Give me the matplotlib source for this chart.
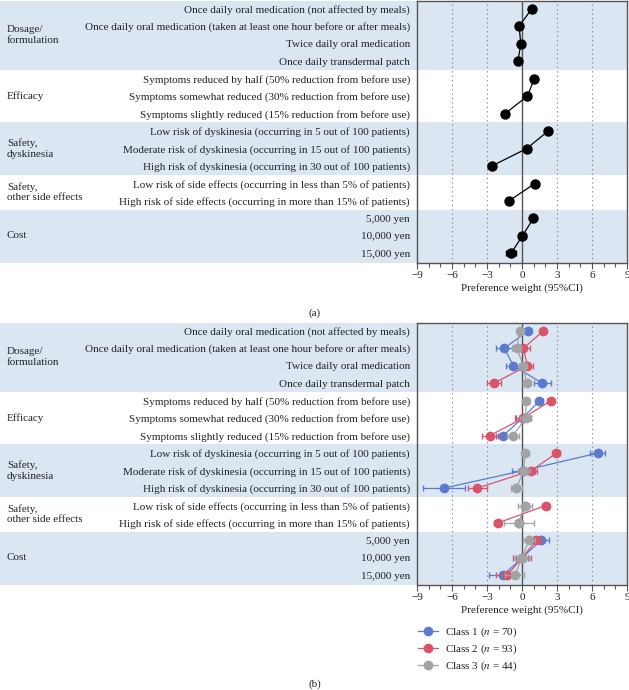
import matplotlib
matplotlib.use("Agg")
import matplotlib.pyplot as plt
import matplotlib.transforms as mtransforms
from matplotlib.patches import Rectangle
from matplotlib.lines import Line2D
from matplotlib.ticker import MultipleLocator

plt.rcParams['font.family'] = 'Liberation Serif'
plt.rcParams['mathtext.fontset'] = 'stix'

# attribute levels (rows) and their groups
levels = [
    "Once daily oral medication (not affected by meals)",
    "Once daily oral medication (taken at least one hour before or after meals)",
    "Twice daily oral medication",
    "Once daily transdermal patch",
    "Symptoms reduced by half (50% reduction from before use)",
    "Symptoms somewhat reduced (30% reduction from before use)",
    "Symptoms slightly reduced (15% reduction from before use)",
    "Low risk of dyskinesia (occurring in 5 out of 100 patients)",
    "Moderate risk of dyskinesia (occurring in 15 out of 100 patients)",
    "High risk of dyskinesia (occurring in 30 out of 100 patients)",
    "Low risk of side effects (occurring in less than 5% of patients)",
    "High risk of side effects (occurring in more than 15% of patients)",
    "5,000 yen",
    "10,000 yen",
    "15,000 yen",
]
group_names = ["Dosage/\nformulation", "Efficacy", "Safety,\ndyskinesia",
               "Safety,\nother side effects", "Cost"]
group_sizes = [4, 3, 3, 2, 3]

# panel (a): whole sample
all_mean = [0.83, -0.25, -0.10, -0.35, 1.06, 0.46, -1.46, 2.23, 0.40, -2.60,
            1.11, -1.14, 0.97, 0.03, -0.94]
all_err = [0.2, 0.25, 0.2, 0.2, 0.2, 0.25, 0.25, 0.2, 0.25, 0.3,
           0.2, 0.2, 0.25, 0.3, 0.45]

# panel (b): latent classes
class_labels = ["Class 1 ($n$ = 70)", "Class 2 ($n$ = 93)", "Class 3 ($n$ = 44)"]
class_colors = ["#5a7bd0", "#d95468", "#a3a3a3"]
class1_mean = [0.49, -1.51, -0.74, 1.75, 1.49, 0.05, -1.63, 6.49, 0.10, -6.68,
               0.26, -0.26, 1.60, 0.0, -1.63]
class1_err = [0.3, 0.75, 0.65, 0.75, 0.3, 0.6, 0.6, 0.65, 1.0, 1.8,
              0.3, 0.3, 0.7, 0.5, 1.2]
class2_mean = [1.83, 0.12, 0.46, -2.43, 2.46, 0.10, -2.77, 2.95, 0.80, -3.82,
               2.03, -2.08, 1.23, 0.0, -1.29]
class2_err = [0.25, 0.55, 0.5, 0.6, 0.3, 0.7, 0.7, 0.3, 0.5, 0.8,
              0.3, 0.3, 0.4, 0.8, 0.9]
class3_mean = [-0.20, -0.45, 0.12, 0.40, 0.37, 0.30, -0.77, 0.26, 0.15, -0.48,
               0.26, -0.26, 0.60, 0.0, -0.63]
class3_err = [0.25, 0.4, 0.35, 0.3, 0.25, 0.5, 0.5, 0.3, 0.5, 0.5,
              0.6, 1.3, 0.5, 0.6, 0.8]

band_color = "#dbe6f3"
text_color = "#222222"
spine_color = "#555555"
fs = 8

W, H = 629, 690
fig = plt.figure(figsize=(W / 100, H / 100), dpi=100)
ax_a = fig.add_axes([417 / W, 1 - 263 / H, 210 / W, 262 / H])
ax_b = fig.add_axes([417 / W, 1 - 585 / H, 210 / W, 262 / H])

rows = list(range(len(levels)))


def group_slices():
    start = 0
    for size in group_sizes:
        yield start, start + size
        start += size


def setup(ax):
    ax.set_xlim(-9, 9)
    ax.set_ylim(14.55, -0.45)
    ax.set_facecolor("white")
    trans = mtransforms.blended_transform_factory(fig.transFigure, ax.transData)
    for i, (s, e) in enumerate(group_slices()):
        lo = -0.45 if s == 0 else s - 0.5
        hi = 14.55 if e == len(levels) else e - 0.5
        if i % 2 == 0:
            ax.add_patch(Rectangle((0, lo), 627 / W, hi - lo, transform=trans,
                                   facecolor=band_color, edgecolor="none",
                                   clip_on=False, zorder=0))
        ax.text(7 / W, (s + e - 1) / 2, group_names[i], transform=trans,
                ha="left", va="center", fontsize=fs, color=text_color,
                linespacing=1.2)
    for gx in [-6, -3, 3, 6]:
        ax.axvline(gx, color="#777777", lw=0.8, ls=(0, (1, 3)), zorder=1)
    ax.axvline(0, color=spine_color, lw=1.0, zorder=1)
    ax.set_yticks(rows, levels)
    ax.tick_params(axis="y", length=0, pad=5, labelsize=fs, labelcolor=text_color)
    ax.xaxis.set_major_locator(MultipleLocator(3))
    ax.xaxis.set_minor_locator(MultipleLocator(1))
    ax.set_xticks(range(-9, 10, 3), ["\u22129", "\u22126", "\u22123", "0", "3", "6", "9"])
    ax.tick_params(axis="x", which="major", length=4, width=0.8, color=spine_color,
                   labelsize=fs, labelcolor=text_color, pad=2)
    ax.tick_params(axis="x", which="minor", length=3, width=0.8, color=spine_color)
    for sp in ax.spines.values():
        sp.set_color(spine_color)
        sp.set_linewidth(1.0)
        sp.set_zorder(5)
    ax.set_xlabel("Preference weight (95%CI)", fontsize=fs, color=text_color, labelpad=2)


setup(ax_a)
setup(ax_b)

# panel (a)
for s, e in group_slices():
    ax_a.errorbar(all_mean[s:e], rows[s:e], xerr=all_err[s:e], fmt="-o",
                  color="black", ms=6.5, lw=0.9, elinewidth=0.9, capsize=2.5, zorder=3)

# panel (b)
class_means = [class1_mean, class2_mean, class3_mean]
class_errs = [class1_err, class2_err, class3_err]
for k in range(3):
    for s, e in group_slices():
        ax_b.errorbar(class_means[k][s:e], rows[s:e], xerr=class_errs[k][s:e],
                      fmt="-o", color=class_colors[k], ms=6, lw=0.9,
                      elinewidth=0.9, capsize=2.5, zorder=3 + k)

handles = [Line2D([], [], color=c, marker="o", ms=6, lw=0.9) for c in class_colors]
ax_b.legend(handles, class_labels, loc="upper left", bbox_to_anchor=(0.005, -0.155),
            frameon=False, fontsize=fs, handlelength=1.8, handletextpad=0.6,
            labelspacing=0.3, borderpad=0, borderaxespad=0, labelcolor=text_color)

fig.text(315 / W, 1 - 313 / H, "(a)", ha="center", va="center", fontsize=fs,
         color=text_color)
fig.text(315 / W, 1 - 684 / H, "(b)", ha="center", va="center", fontsize=fs,
         color=text_color)

fig.savefig("out.png", dpi=100)
